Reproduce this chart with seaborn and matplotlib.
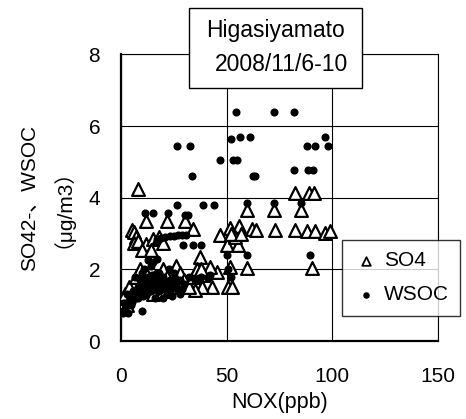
import matplotlib
matplotlib.use("Agg")
import matplotlib.pyplot as plt
from matplotlib.patches import Rectangle
import seaborn as sns
import pandas as pd

sns.set_theme(style="white")
plt.rcParams['font.family'] = ['Liberation Sans', 'Noto Sans CJK JP', 'DejaVu Sans']
plt.rcParams.update({'text.color': 'black', 'axes.labelcolor': 'black',
                     'xtick.color': 'black', 'ytick.color': 'black'})

# WSOC (filled dots)
wsoc_x = [54.5, 72.5, 82, 52, 56.4, 61, 26.4, 32.7, 88, 92, 96.6, 98.2,
          46.9, 53.2, 54.8, 82.1, 88.7, 91.1, 33.8, 62.7, 63.5,
          26.4, 39, 44.2, 59.5, 72.6, 85.1, 11.4, 15, 22.4, 30.3, 31.9,
          17, 19, 21, 23, 25, 27, 29, 31, 29.2, 34.2, 37.7,
          50, 59.5, 89.5, 52, 42, 41, 50.5,
          1.1, 3.5, 2, 9.8, 3, 4, 6.6, 5, 7, 2.5, 1.5,
          8, 9, 10, 11, 12, 13, 14, 15, 16, 17, 18, 19, 20, 21, 22, 23, 24, 25, 26,
          27, 28, 30, 32, 12, 14, 16, 10, 8, 6, 20, 18, 35, 38, 15, 17, 13, 11, 9, 24, 28,
          7.5, 9.5, 11.5, 13.5, 15.5, 17.5, 19.5, 21.5, 23.5, 25.5, 10.5, 12.5, 14.5, 16.5,
          18.5, 4.5, 5.5, 22.5, 26.5, 29]
wsoc_y = [6.39, 6.39, 6.39, 5.65, 5.69, 5.69, 5.44, 5.44, 5.44, 5.44, 5.69, 5.44,
          5.06, 5.06, 5.06, 4.78, 4.78, 4.78, 4.61, 4.61, 4.61,
          3.79, 3.79, 3.79, 3.85, 3.85, 3.85, 3.57, 3.57, 3.57, 3.51, 3.51,
          2.85, 2.88, 2.9, 2.92, 2.93, 2.95, 2.96, 2.97, 2.67, 2.67, 2.67,
          2.4, 2.4, 2.4, 1.79, 1.85, 1.75, 2.0,
          0.77, 0.77, 0.9, 0.84, 1.3, 1.25, 1.79, 1.1, 1.2, 1.0, 1.05,
          1.5, 1.7, 1.9, 2.0, 1.6, 1.8, 2.1, 1.5, 1.7, 1.9, 1.4, 1.6, 1.8, 1.5, 1.3,
          1.7, 1.6, 1.9, 1.5, 1.4, 1.7, 1.6, 1.8, 1.3, 1.4, 1.2, 1.4, 1.2, 1.4, 1.2,
          1.9, 1.7, 1.8, 2.2, 2.3, 2.25, 1.55, 1.35, 1.25, 1.3,
          1.35, 1.55, 1.75, 1.65, 1.85, 1.6, 1.45, 1.65, 1.45, 1.75, 1.25, 1.45, 1.85, 1.55,
          1.75, 1.0, 1.4, 2.0, 1.65, 1.45]

# SO4 (open triangles)
so4_x = [8.2, 82.4, 89.2, 91.4, 59.5, 72.6, 85.1, 11.8, 21.9, 30.3, 34.2,
         5, 6, 7, 6, 8, 12, 15, 18, 20, 10, 14,
         51.6, 56, 62, 64, 46.9, 50, 55.6, 54, 52, 57,
         73, 82.4, 88, 92, 96.6, 99, 37.4, 51.6, 59.5, 90.3,
         50.8, 52.4, 43, 38.2, 35, 45.3, 42.2, 39,
         0, 1, 2, 4, 7, 9, 10, 12, 14, 16, 18, 20, 22, 24, 26, 28, 30, 32, 34,
         36, 25, 20, 15, 3, 38]
so4_y = [4.25, 4.13, 4.13, 4.13, 3.65, 3.65, 3.65, 3.34, 3.34, 3.34, 3.14,
         3.1, 3.05, 2.9, 2.75, 2.8, 2.7, 2.85, 2.9, 2.75, 2.55, 2.55,
         3.15, 3.2, 3.12, 3.1, 2.95, 2.67, 2.67, 2.9, 3.0, 3.0,
         3.11, 3.11, 3.07, 3.07, 3.02, 3.07, 2.35, 2.07, 2.05, 2.05,
         1.51, 1.51, 1.51, 1.51, 1.42, 1.93, 2.07, 1.84,
         1.1, 1.2, 1.3, 1.5, 1.8, 2.0, 1.7, 1.9, 1.6, 1.8, 1.7, 2.0, 1.8, 1.6, 2.1,
         1.9, 1.7, 1.5, 1.8, 2.0, 1.5, 1.4, 1.3, 1.0, 2.0]

xticks = [0, 50, 100, 150]
yticks = [0, 2, 4, 6, 8]
title_lines = ['Higasiyamato', '2008/11/6-10']

so4 = pd.DataFrame({'NOX': so4_x, 'val': so4_y})
wsoc = pd.DataFrame({'NOX': wsoc_x, 'val': wsoc_y})

W, H = 466, 419
fig = plt.figure(figsize=(4.66, 4.19), dpi=100)
ax = fig.add_axes([121/W, 1-341/H, (437.7-121)/W, (341-54.5)/H])

sns.scatterplot(data=so4, x='NOX', y='val', ax=ax, marker='^', s=85,
                facecolor='white', edgecolor='black', linewidth=1.6, label='SO4', zorder=3)
sns.scatterplot(data=wsoc, x='NOX', y='val', ax=ax, marker='o', s=34,
                color='black', edgecolor='black', linewidth=0, label='WSOC', zorder=4)

ax.set_xlim(0, 150)
ax.set_ylim(0, 8)
ax.set_xticks(xticks)
ax.set_yticks(yticks)
ax.grid(True, color='black', linewidth=0.8)
ax.set_axisbelow(True)
for s in ['top', 'right']:
    ax.spines[s].set_linewidth(0.8)
    ax.spines[s].set_color('black')
for s in ['left', 'bottom']:
    ax.spines[s].set_linewidth(1.6)
    ax.spines[s].set_color('black')
ax.tick_params(axis='x', labelsize=15, pad=19, length=4, direction='in', color='black')
ax.tick_params(axis='y', labelsize=15, pad=15, length=4, direction='in', color='black')
ax.set_xlabel('NOX(ppb)', fontsize=15.5, labelpad=4)
ax.set_ylabel('SO42-、WSOC\n（μg/m3）', fontsize=15, labelpad=19, linespacing=1.1)

leg = ax.legend(loc='upper left', bbox_to_anchor=((342-121)/(437.7-121), (341-240)/(341-54.5)),
                borderaxespad=0, fontsize=15, frameon=True, fancybox=False, edgecolor='black',
                handletextpad=0.25, handlelength=1.2, borderpad=0.55,
                labelspacing=0.7)
leg.get_frame().set_linewidth(1.0)
leg.set_zorder(10)
handles = leg.legend_handles
handles[0].set_sizes([38])
handles[0].set_linewidth(1.3)
handles[1].set_sizes([22])

fig.add_artist(Rectangle((189/W, 1-88/H), (362-189)/W, (88-8)/H, transform=fig.transFigure,
                         facecolor='white', edgecolor='black', linewidth=1.0, zorder=20))
fig.text(276/W, 1-30/H, title_lines[0], ha='center', va='center', fontsize=16.5, zorder=21)
fig.text(282/W, 1-64/H, title_lines[1], ha='center', va='center', fontsize=16.5, zorder=21)

fig.savefig('out.png', dpi=100)
